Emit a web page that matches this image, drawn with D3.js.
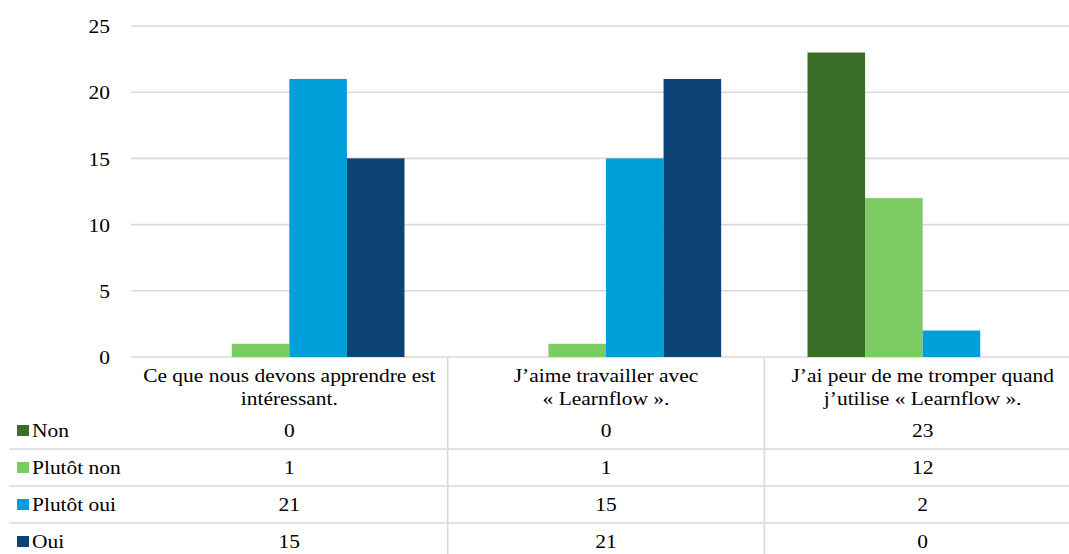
<!DOCTYPE html>
<html>
<head>
<meta charset="utf-8">
<script src="https://cdn.jsdelivr.net/npm/d3@7/dist/d3.min.js"></script>
<style>
  html, body { margin: 0; padding: 0; background: #ffffff; }
  svg { display: block; }
  text { font-family: "Liberation Serif", "Times New Roman", serif; fill: #000; }
</style>
</head>
<body>
<svg id="chart" width="1069" height="554"></svg>
<script>
// Survey statements (two lines each in the table header)
const categories = [
  ["Ce que nous devons apprendre est", "intéressant."],
  ["J\u2019aime travailler avec", "\u00ab Learnflow \u00bb."],
  ["J\u2019ai peur de me tromper quand", "j\u2019utilise \u00ab Learnflow \u00bb."]
];
const seriesNames = ["Non", "Plutôt non", "Plutôt oui", "Oui"];
const nonValues       = [0, 0, 23];
const plutotNonValues = [1, 1, 12];
const plutotOuiValues = [21, 15, 2];
const ouiValues       = [15, 21, 0];
const yTicks = [0, 5, 10, 15, 20, 25];

const seriesValues = [nonValues, plutotNonValues, plutotOuiValues, ouiValues];
const colors = ["#3a6e26", "#7dcb63", "#009fd9", "#0b4377"];

const svg = d3.select("#chart");
const fontSize = 19.5;
const stretch = 1.1;          // slightly wide lettering
const gridColor = "#d9d9d9";

// Plot geometry
const plotLeft = 131, plotRight = 1081;
const plotTop = 26, plotBottom = 357;
const headerBottom = 412, rowH = 37;

const x0 = d3.scaleBand()
  .domain(d3.range(categories.length))
  .range([plotLeft, plotRight])
  .padding(0);

const band = x0.bandwidth();
const gap = band * 1.5 / 5.5;
const x1 = d3.scaleBand()
  .domain(d3.range(seriesNames.length))
  .range([gap / 2, band - gap / 2])
  .padding(0);

const y = d3.scaleLinear().domain([0, 25]).range([plotBottom, plotTop]);

// Place a text label at (x, y) with the wide lettering
function label(parent, x, yPos, str, anchor, dy) {
  return parent.append("g")
    .attr("transform", `translate(${x},${yPos}) scale(${stretch},1)`)
    .append("text")
    .attr("text-anchor", anchor)
    .attr("dy", dy || 0)
    .attr("font-size", fontSize)
    .text(str);
}

// Horizontal gridlines
svg.append("g").selectAll("line")
  .data(yTicks)
  .join("line")
  .attr("x1", plotLeft).attr("x2", plotRight)
  .attr("y1", d => y(d)).attr("y2", d => y(d))
  .attr("stroke", gridColor).attr("stroke-width", 1.6);

// Y axis labels
const yAxis = d3.axisLeft(y).tickValues(yTicks).tickSize(0).tickPadding(0);
const yg = svg.append("g").attr("transform", `translate(110,0)`).call(yAxis);
yg.select(".domain").remove();
yg.selectAll(".tick text").remove();
yg.selectAll(".tick").each(function (d) {
  label(d3.select(this), 0, 0, d, "end", "0.34em");
});

// Bars
const groups = svg.append("g").selectAll("g")
  .data(categories.map((c, i) => i))
  .join("g")
  .attr("transform", i => `translate(${x0(i)},0)`);

groups.selectAll("rect")
  .data(i => seriesValues.map((vals, s) => ({ s, v: vals[i] })))
  .join("rect")
  .attr("x", d => x1(d.s))
  .attr("width", x1.bandwidth())
  .attr("y", d => y(d.v))
  .attr("height", d => y(0) - y(d.v))
  .attr("fill", d => colors[d.s]);

// Data table: vertical dividers between categories
svg.append("g").selectAll("line")
  .data([1, 2])
  .join("line")
  .attr("x1", i => x0(i)).attr("x2", i => x0(i))
  .attr("y1", plotBottom).attr("y2", 554)
  .attr("stroke", gridColor).attr("stroke-width", 1.6);

// Row separators
svg.append("g").selectAll("line")
  .data([1, 2, 3])
  .join("line")
  .attr("x1", 9).attr("x2", plotRight)
  .attr("y1", r => headerBottom + r * rowH).attr("y2", r => headerBottom + r * rowH)
  .attr("stroke", gridColor).attr("stroke-width", 1.6);

// Category header text
const header = svg.append("g");
categories.forEach((lines, i) => {
  lines.forEach((ln, k) => {
    label(header, x0(i) + band / 2, 382 + k * 23, ln, "middle");
  });
});

// Rows: legend key, series name, values
const rows = svg.append("g").selectAll("g")
  .data(seriesNames.map((n, s) => s))
  .join("g")
  .attr("transform", s => `translate(0,${headerBottom + s * rowH + rowH / 2})`);

rows.append("rect")
  .attr("x", 17).attr("y", -5.5)
  .attr("width", 12).attr("height", 11)
  .attr("fill", s => colors[s]);

rows.each(function (s) {
  const row = d3.select(this);
  label(row, 32, 0, seriesNames[s], "start", "0.34em");
  seriesValues[s].forEach((v, i) => {
    label(row, x0(i) + band / 2, 0, v, "middle", "0.34em");
  });
});
</script>
</body>
</html>
